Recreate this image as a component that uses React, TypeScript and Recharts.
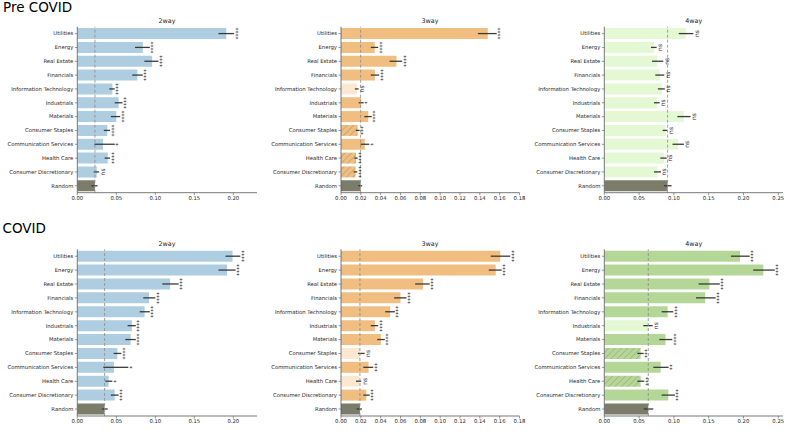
import React from 'react';
import { BarChart, Bar, XAxis, YAxis, ErrorBar, Cell, ReferenceLine, LabelList } from 'recharts';

const sectors = ['Utilities', 'Energy', 'Real Estate', 'Financials', 'Information Technology', 'Industrials', 'Materials', 'Consumer Staples', 'Communication Services', 'Health Care', 'Consumer Discretionary', 'Random'];

const ticks2 = [0, 0.05, 0.1, 0.15, 0.2];
const ticks3 = [0, 0.02, 0.04, 0.06, 0.08, 0.1, 0.12, 0.14, 0.16, 0.18];
const ticks4 = [0, 0.05, 0.1, 0.15, 0.2, 0.25];

// Pre COVID, 2way
const pre2Mean = [0.191, 0.084, 0.096, 0.077, 0.045, 0.053, 0.050, 0.0385, 0.033, 0.039, 0.025, 0.0226];
const pre2Lo = [0.181, 0.074, 0.086, 0.0705, 0.041, 0.048, 0.043, 0.034, 0.022, 0.035, 0.021, 0.018];
const pre2Hi = [0.201, 0.093, 0.104, 0.084, 0.048, 0.058, 0.055, 0.042, 0.048, 0.042, 0.028, 0.026];
const pre2Sig = ['****', '****', '****', '****', '****', '****', '****', '****', '*', '****', 'ns', ''];
const pre2Shade = ['n', 'n', 'n', 'n', 'n', 'n', 'n', 'n', 'n', 'n', 'n', 'r'];

// Pre COVID, 3way
const pre3Mean = [0.148, 0.034, 0.056, 0.0342, 0.016, 0.0202, 0.0275, 0.0168, 0.024, 0.0151, 0.0147, 0.0198];
const pre3Lo = [0.138, 0.030, 0.049, 0.030, 0.014, 0.0178, 0.0235, 0.015, 0.0198, 0.0134, 0.0127, 0.0174];
const pre3Hi = [0.157, 0.0375, 0.0617, 0.0385, 0.0178, 0.0228, 0.031, 0.0188, 0.0285, 0.0168, 0.0164, 0.0214];
const pre3Sig = ['****', '****', '****', '****', 'ns', '*', '****', '***', '*', '****', '****', ''];
const pre3Shade = ['n', 'n', 'n', 'n', 'l', 'n', 'n', 'h', 'n', 'h', 'h', 'r'];

// Pre COVID, 4way
const pre4Mean = [0.117, 0.0714, 0.0761, 0.080, 0.0829, 0.0757, 0.114, 0.088, 0.106, 0.0857, 0.0761, 0.091];
const pre4Lo = [0.107, 0.067, 0.0685, 0.0733, 0.077, 0.0714, 0.105, 0.0838, 0.098, 0.0805, 0.0714, 0.0857];
const pre4Hi = [0.128, 0.0752, 0.0848, 0.0862, 0.087, 0.0795, 0.124, 0.0905, 0.1145, 0.0896, 0.0814, 0.0967];
const pre4Sig = ['ns', 'ns', 'ns', 'ns', 'ns', 'ns', 'ns', 'ns', 'ns', 'ns', 'ns', ''];
const pre4Shade = ['l', 'l', 'l', 'l', 'l', 'l', 'l', 'l', 'l', 'l', 'l', 'r'];

// COVID, 2way
const cov2Mean = [0.199, 0.192, 0.119, 0.092, 0.0863, 0.070, 0.0684, 0.0513, 0.047, 0.0402, 0.0479, 0.035];
const cov2Lo = [0.19, 0.181, 0.109, 0.0846, 0.080, 0.0645, 0.0615, 0.0466, 0.0333, 0.036, 0.043, 0.0316];
const cov2Hi = [0.209, 0.203, 0.13, 0.100, 0.093, 0.075, 0.075, 0.0564, 0.0654, 0.0449, 0.053, 0.0389];
const cov2Sig = ['****', '****', '****', '****', '****', '****', '****', '****', '*', '*', '****', ''];
const cov2Shade = ['n', 'n', 'n', 'n', 'n', 'n', 'n', 'n', 'n', 'n', 'n', 'r'];

// COVID, 3way
const cov3Mean = [0.1606, 0.156, 0.0828, 0.060, 0.0496, 0.0342, 0.0402, 0.0191, 0.0278, 0.0184, 0.0255, 0.0191];
const cov3Lo = [0.151, 0.149, 0.0748, 0.0536, 0.0446, 0.030, 0.0365, 0.0171, 0.0225, 0.0151, 0.0225, 0.0158];
const cov3Hi = [0.1706, 0.162, 0.0895, 0.066, 0.0543, 0.0375, 0.0442, 0.0238, 0.0325, 0.0204, 0.029, 0.0211];
const cov3Sig = ['****', '****', '****', '****', '****', '****', '****', 'ns', '***', 'ns', '****', ''];
const cov3Shade = ['n', 'n', 'n', 'n', 'n', 'n', 'n', 'l', 'n', 'l', 'n', 'r'];

// COVID, 4way
const cov4Mean = [0.195, 0.2285, 0.151, 0.145, 0.091, 0.0632, 0.088, 0.0522, 0.081, 0.0522, 0.092, 0.0632];
const cov4Lo = [0.182, 0.214, 0.1355, 0.1317, 0.0824, 0.056, 0.079, 0.0474, 0.0704, 0.0474, 0.0824, 0.0565];
const cov4Hi = [0.209, 0.245, 0.166, 0.160, 0.099, 0.0694, 0.0977, 0.0565, 0.0924, 0.0575, 0.1015, 0.0704];
const cov4Sig = ['****', '****', '****', '****', '****', 'ns', '****', '***', '**', '***', '****', ''];
const cov4Shade = ['n', 'n', 'n', 'n', 'n', 'l', 'n', 'h', 'n', 'h', 'n', 'r'];

const FONT = 'DejaVu Sans';
const TXT = '#262626';
const RANDOM_COLOR = '#7b7d6a';
const palettes = {
  blue: { base: '#aecde0', light: '#d8e8f2' },
  orange: { base: '#efbe80', light: '#fce8d1' },
  green: { base: '#b4d797', light: '#e3f8d3' },
};

type PanelProps = {
  id: string;
  mean: number[];
  lo: number[];
  hi: number[];
  sig: string[];
  shade: string[];
  ticks: number[];
  domainMax: number;
  palette: { base: string; light: string };
  left: number;
  top: number;
  width: number;
  height: number;
  yAxisWidth: number;
  margin: { top: number; right: number; bottom: number; left: number };
};

const YTick = (props: any) => {
  const { x, y, payload } = props;
  return (
    <text x={x} y={y} dy="0.35em" textAnchor="end" fontSize={5.3} fontFamily={FONT} fill={TXT}>
      {payload.value}
    </text>
  );
};

const XTick = (props: any) => {
  const { x, y, payload } = props;
  return (
    <text x={x} y={y} dy="0.75em" textAnchor="middle" fontSize={5.3} fontFamily={FONT} fill={TXT}>
      {Number(payload.value).toFixed(2)}
    </text>
  );
};

function Panel(p: PanelProps) {
  const data = sectors.map((s, i) => ({
    sector: s,
    mean: p.mean[i],
    err: [p.mean[i] - p.lo[i], p.hi[i] - p.mean[i]],
  }));
  const randomMean = p.mean[p.mean.length - 1];
  const hatchId = `hatch-${p.id}`;
  const fillFor = (s: string) => {
    if (s === 'r') return RANDOM_COLOR;
    if (s === 'l') return p.palette.light;
    if (s === 'h') return `url(#${hatchId})`;
    return p.palette.base;
  };
  const renderSig = (props: any) => {
    const idx = props.index;
    const vb = props.viewBox || props;
    const { x, y, width, height } = vb;
    if (idx == null || !p.sig[idx]) return null;
    const m = p.mean[idx];
    const pxPerUnit = width / m;
    const lx = x + p.hi[idx] * pxPerUnit + 5.5;
    const cy = y + height / 2;
    return (
      <text
        x={lx}
        y={cy}
        transform={`rotate(-90 ${lx} ${cy})`}
        textAnchor="middle"
        fontSize={6}
        fontFamily={FONT}
        fill={TXT}
      >
        {p.sig[idx]}
      </text>
    );
  };
  return (
    <div style={{ position: 'absolute', left: p.left, top: p.top }}>
      <BarChart
        width={p.width}
        height={p.height}
        data={data}
        layout="vertical"
        margin={p.margin}
        barCategoryGap="10%"
      >
        <defs>
          <pattern id={hatchId} patternUnits="userSpaceOnUse" width="4.5" height="4.5" patternTransform="rotate(45)">
            <rect width="4.5" height="4.5" fill={p.palette.base} />
            <line x1="0" y1="0" x2="0" y2="4.5" stroke="#8f7f66" strokeWidth="0.7" />
          </pattern>
        </defs>
        <XAxis
          type="number"
          domain={[0, p.domainMax]}
          ticks={p.ticks}
          interval={0}
          allowDataOverflow
          tick={<XTick />}
          tickSize={2.5}
          tickMargin={1}
          height={12}
          axisLine={{ stroke: '#555', strokeWidth: 0.8 }}
          tickLine={{ stroke: '#555', strokeWidth: 0.6 }}
        />
        <YAxis
          type="category"
          dataKey="sector"
          width={p.yAxisWidth}
          tick={<YTick />}
          tickSize={2.5}
          tickMargin={1.5}
          interval={0}
          axisLine={{ stroke: '#555', strokeWidth: 0.8 }}
          tickLine={{ stroke: '#555', strokeWidth: 0.6 }}
        />
        <Bar dataKey="mean" isAnimationActive={false}>
          {data.map((_, i) => (
            <Cell key={i} fill={fillFor(p.shade[i])} />
          ))}
          <ErrorBar dataKey="err" direction="x" width={0} stroke="#3a3a3a" strokeWidth={1.3} />
          <LabelList dataKey="mean" content={renderSig} />
        </Bar>
        <ReferenceLine x={randomMean} stroke="#8a8a8a" strokeDasharray="3 2" strokeWidth={0.8} />
      </BarChart>
    </div>
  );
}

const colGeom = [
  { left: 0, width: 262, yAxisWidth: 77.3, right: 5, ticks: ticks2, max: 0.2304 },
  { left: 262, width: 272, yAxisWidth: 79, right: 14.5, ticks: ticks3, max: 0.18 },
  { left: 524, width: 266, yAxisWidth: 80.3, right: 7, ticks: ticks4, max: 0.2568 },
];
const rowGeom = [
  { top: 0, mTop: 26.7, mBottom: 11.3 },
  { top: 216, mTop: 33.3, mBottom: 4 },
];

const panels = [
  { id: 'p2', row: 0, col: 0, mean: pre2Mean, lo: pre2Lo, hi: pre2Hi, sig: pre2Sig, shade: pre2Shade, palette: palettes.blue },
  { id: 'p3', row: 0, col: 1, mean: pre3Mean, lo: pre3Lo, hi: pre3Hi, sig: pre3Sig, shade: pre3Shade, palette: palettes.orange },
  { id: 'p4', row: 0, col: 2, mean: pre4Mean, lo: pre4Lo, hi: pre4Hi, sig: pre4Sig, shade: pre4Shade, palette: palettes.green },
  { id: 'c2', row: 1, col: 0, mean: cov2Mean, lo: cov2Lo, hi: cov2Hi, sig: cov2Sig, shade: cov2Shade, palette: palettes.blue },
  { id: 'c3', row: 1, col: 1, mean: cov3Mean, lo: cov3Lo, hi: cov3Hi, sig: cov3Sig, shade: cov3Shade, palette: palettes.orange },
  { id: 'c4', row: 1, col: 2, mean: cov4Mean, lo: cov4Lo, hi: cov4Hi, sig: cov4Sig, shade: cov4Shade, palette: palettes.green },
];

const panelTitles = ['2way', '3way', '4way'];
const sectionTitles = ['Pre COVID', 'COVID'];

export default function App() {
  return (
    <div style={{ position: 'absolute', left: 0, top: 0, width: 790, height: 432, background: '#fff', fontFamily: FONT, overflow: 'hidden' }}>
      {panels.map((pp) => {
        const c = colGeom[pp.col];
        const r = rowGeom[pp.row];
        return (
          <Panel
            key={pp.id}
            id={pp.id}
            mean={pp.mean}
            lo={pp.lo}
            hi={pp.hi}
            sig={pp.sig}
            shade={pp.shade}
            palette={pp.palette}
            ticks={c.ticks}
            domainMax={c.max}
            left={c.left}
            top={r.top}
            width={c.width}
            height={216}
            yAxisWidth={c.yAxisWidth}
            margin={{ top: r.mTop, right: c.right, bottom: r.mBottom, left: 0 }}
          />
        );
      })}
      <svg width={790} height={432} style={{ position: 'absolute', left: 0, top: 0, pointerEvents: 'none' }}>
        <text x={3} y={11.5} fontSize={13.5} fontFamily={FONT} fill="#000">{sectionTitles[0]}</text>
        <text x={2.5} y={232.6} fontSize={13.5} fontFamily={FONT} fill="#000">{sectionTitles[1]}</text>
        {[167, 430, 693.7].map((cx, i) => (
          <React.Fragment key={i}>
            <text x={cx} y={23} textAnchor="middle" fontSize={6.4} fontFamily={FONT} fill={TXT}>{panelTitles[i]}</text>
            <text x={cx} y={246} textAnchor="middle" fontSize={6.4} fontFamily={FONT} fill={TXT}>{panelTitles[i]}</text>
          </React.Fragment>
        ))}
      </svg>
    </div>
  );
}
